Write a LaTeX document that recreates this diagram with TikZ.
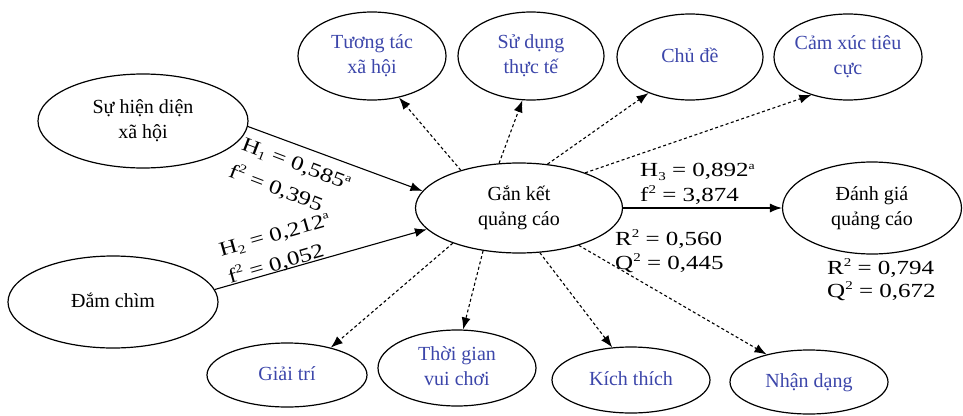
\documentclass[tikz,border=0pt]{standalone}
\usepackage{fontspec}
\setmainfont{Liberation Serif}
\usetikzlibrary{shapes.geometric,arrows.meta}
\definecolor{labblue}{RGB}{60,70,170}
\newcommand{\ctrtext}[1]{\makebox[0pt]{\begin{tabular}{@{}c@{}}#1\end{tabular}}}
\newcommand{\widetxt}[1]{\scalebox{1.25}[1]{#1}}
\newcommand{\supa}{\raisebox{0.85ex}{\fontsize{11}{11}\selectfont a}}
\newcommand{\suptwo}{\raisebox{0.85ex}{\fontsize{12}{12}\selectfont 2}}
\newcommand{\subn}[1]{\raisebox{-0.35ex}{\fontsize{12}{12}\selectfont #1}}
\begin{document}
\begin{tikzpicture}[x=1pt,y=-1pt,
  font=\fontsize{20}{25}\selectfont,
  ell/.style={draw, ellipse, line width=1.2pt, inner sep=0pt},
  sat/.style={ell, text=labblue},
  solidarr/.style={-{Latex[length=12pt,width=9pt]}, line width=1.1pt},
  dasharr/.style={-{Latex[length=12pt,width=9pt]}, line width=1.1pt, dash pattern=on 3pt off 2.5pt},
  lab/.style={inner sep=0pt}]
\useasboundingbox (0,0) rectangle (963,415);

% main constructs
\node[ell, minimum width=210pt, minimum height=94pt] (sh) at (143,121) {\ctrtext{Sự hiện diện\\xã hội}};
\node[ell, minimum width=210pt, minimum height=92pt] (dc) at (113,302) {\ctrtext{Đắm chìm}};
\node[ell, minimum width=207pt, minimum height=90pt] (gk) at (519,208) {\ctrtext{Gắn kết\\quảng cáo}};
\node[ell, minimum width=179pt, minimum height=92pt] (dg) at (872,208) {\ctrtext{Đánh giá\\quảng cáo}};

% top satellites
\node[sat, minimum width=148pt, minimum height=88pt] (tt) at (372,56) {\ctrtext{Tương tác\\xã hội}};
\node[sat, minimum width=146pt, minimum height=88pt] (sd) at (531,56) {\ctrtext{Sử dụng\\thực tế}};
\node[sat, minimum width=146pt, minimum height=86pt] (cd) at (690,57) {\ctrtext{Chủ đề}};
\node[sat, minimum width=148pt, minimum height=86pt] (cx) at (848,57) {\ctrtext{Cảm xúc tiêu\\cực}};

% bottom satellites
\node[sat, minimum width=160pt, minimum height=64pt] (gt) at (287,375) {\ctrtext{Giải trí}};
\node[sat, minimum width=158pt, minimum height=76pt] (tg) at (457,368) {\ctrtext{Thời gian\\vui chơi}};
\node[sat, minimum width=158pt, minimum height=66pt] (kt) at (631,380) {\ctrtext{Kích thích}};
\node[sat, minimum width=158pt, minimum height=64pt] (nd) at (809,382) {\ctrtext{Nhận dạng}};

% structural paths
\draw[solidarr] (sh.-3) -- (gk.170);
\draw[solidarr] (dc.7) -- (gk.193);
\draw[solidarr] (gk.east) -- (dg.west);

% reflective indicators
\draw[dasharr] (gk.147) -- (tt.-57.5);
\draw[dasharr] (gk.114) -- (sd.259);
\draw[dasharr] (gk.57.5) -- (cd.221.5);
\draw[dasharr] (gk.28) -- (cx.226);
\draw[dasharr] (gk.208) -- (gt.32);
\draw[dasharr] (gk.230.6) -- (tg.81.5);
\draw[dasharr] (gk.-65) -- (kt.120);
\draw[dasharr] (gk.-32.6) -- (nd.147.5);

% labels
\node[lab, rotate=-21] (h1) at (296,165) {\widetxt{H\subn{1} = 0,585\supa}};
\node[lab, rotate=-21] (f1) at (276,188) {\widetxt{f\suptwo\ = 0,395}};
\node[lab, rotate=16] (h2) at (275,236) {\widetxt{H\subn{2} = 0,212\supa}};
\node[lab, rotate=16] (f2) at (276,264) {\widetxt{f\suptwo\ = 0,052}};
\node[lab, anchor=west] (h3) at (640,172) {\widetxt{H\subn{3} = 0,892\supa}};
\node[lab, anchor=west] (f3) at (640,195) {\widetxt{f\suptwo\ = 3,874}};
\node[lab, anchor=west] (r1) at (615,239) {\widetxt{R\suptwo\ = 0,560}};
\node[lab, anchor=west] (q1) at (615,263) {\widetxt{Q\suptwo\ = 0,445}};
\node[lab, anchor=west] (r2) at (827,268) {\widetxt{R\suptwo\ = 0,794}};
\node[lab, anchor=west] (q2) at (827,291) {\widetxt{Q\suptwo\ = 0,672}};
\end{tikzpicture}
\end{document}
